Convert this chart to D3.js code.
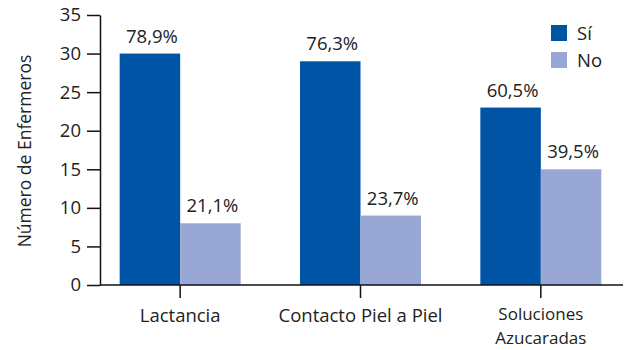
<!DOCTYPE html>
<html>
<head>
<meta charset="utf-8">
<script src="https://cdn.jsdelivr.net/npm/d3@7"></script>
<style>
  body { margin: 0; background: #fff; }
  svg text { font-family: "Open Sans", "Noto Sans", sans-serif; fill: #222; }
</style>
</head>
<body>
<div id="chart"></div>
<script>
(function () {
  const WIDTH = 625;
  const HEIGHT = 350;
  const FONT = "18.5px";

  const categories = ["Lactancia", "Contacto Piel a Piel", "Soluciones\nAzucaradas"];
  const series = ["Sí", "No"];
  const siValues = [30, 29, 23];
  const noValues = [8, 9, 15];
  const siLabels = ["78,9%", "76,3%", "60,5%"];
  const noLabels = ["21,1%", "23,7%", "39,5%"];
  const yTicks = [0, 5, 10, 15, 20, 25, 30, 35];

  const COLORS = { "Sí": "#0054a6", "No": "#99a7d4" };

  const svg = d3.select("#chart").append("svg")
    .attr("width", WIDTH)
    .attr("height", HEIGHT);

  const y = d3.scaleLinear().domain([0, 35]).range([285, 15]);
  const x = d3.scaleBand().domain(categories).range([90, 631]).padding(0);
  const xInner = d3.scaleBand().domain(series).range([0, 121]);
  const groupOffset = (x.bandwidth() - xInner.range()[1]) / 2;

  // y axis
  const yAxis = svg.append("g")
    .attr("transform", "translate(100,0)")
    .call(d3.axisLeft(y).tickValues(yTicks).tickSize(13).tickPadding(6).tickSizeOuter(0));
  yAxis.select(".domain").attr("stroke", "#111").attr("stroke-width", 1.5);
  yAxis.selectAll(".tick line").attr("stroke", "#111").attr("stroke-width", 1.5);
  yAxis.selectAll(".tick text").style("font-size", FONT).attr("fill", "#222");

  svg.append("text")
    .attr("transform", "translate(31,151) rotate(-90)")
    .attr("text-anchor", "middle")
    .style("font-size", "17.5px")
    .text("Número de Enfermeros");

  // bars
  const rows = categories.map((c, i) => ({
    cat: c,
    values: [
      { key: "Sí", value: siValues[i], label: siLabels[i] },
      { key: "No", value: noValues[i], label: noLabels[i] }
    ]
  }));

  const groups = svg.append("g").selectAll("g")
    .data(rows)
    .join("g")
    .attr("transform", (d) => `translate(${x(d.cat) + groupOffset},0)`);

  groups.selectAll("rect")
    .data((d) => d.values)
    .join("rect")
    .attr("x", (d) => xInner(d.key))
    .attr("y", (d) => y(d.value))
    .attr("width", xInner.bandwidth())
    .attr("height", (d) => y(0) - y(d.value))
    .attr("fill", (d) => COLORS[d.key]);

  groups.selectAll("text.val")
    .data((d) => d.values)
    .join("text")
    .attr("class", "val")
    .attr("x", (d) => xInner(d.key) + xInner.bandwidth() / 2 + 2)
    .attr("y", (d) => y(d.value) - 11)
    .attr("text-anchor", "middle")
    .style("font-size", FONT)
    .text((d) => d.label);

  // x axis
  const xAxis = svg.append("g")
    .attr("transform", `translate(0,${y(0)})`)
    .call(d3.axisBottom(x).tickSize(13).tickFormat(""));
  xAxis.select(".domain").remove();
  xAxis.selectAll(".tick line").attr("stroke", "#111").attr("stroke-width", 1.5);
  svg.append("line")
    .attr("x1", 100).attr("x2", 623)
    .attr("y1", y(0)).attr("y2", y(0))
    .attr("stroke", "#111").attr("stroke-width", 1.5);

  // category labels, one text per line (two-line label slightly smaller so it fits)
  const catLabels = svg.append("g").selectAll("g")
    .data(categories)
    .join("g");
  catLabels.selectAll("text")
    .data((d) => {
      const lines = d.split("\n");
      return lines.map((line) => ({ cat: d, line, n: lines.length }));
    })
    .join("text")
    .attr("x", (d) => x(d.cat) + x.bandwidth() / 2)
    .attr("y", (d, i) => d.n > 1 ? 320 + i * 23.5 : 322)
    .attr("text-anchor", "middle")
    .style("font-size", (d) => d.n > 1 ? "17px" : FONT)
    .text((d) => d.line);

  // legend
  const legend = svg.append("g").attr("transform", "translate(551,25)");
  const items = legend.selectAll("g")
    .data(series)
    .join("g")
    .attr("transform", (d, i) => `translate(0,${i * 27})`);
  items.append("rect")
    .attr("width", 16).attr("height", 16)
    .attr("fill", (d) => COLORS[d]);
  items.append("text")
    .attr("x", 26).attr("y", 15)
    .style("font-size", FONT)
    .text((d) => d);
})();
</script>
</body>
</html>
